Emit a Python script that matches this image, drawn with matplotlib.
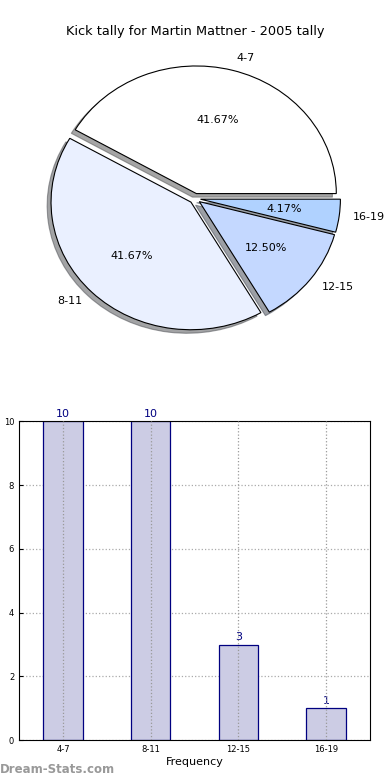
import matplotlib
matplotlib.use("Agg")
import matplotlib.pyplot as plt

# kick tally by distance bucket
categories = ["4-7", "8-11", "12-15", "16-19"]
counts = [10, 10, 3, 1]
pie_colors = ["#ffffff", "#eaf0ff", "#c4d8ff", "#b0d2ff"]

title = "Kick tally for Martin Mattner - 2005 tally"

fig = plt.figure(figsize=(3.9, 7.8), dpi=100)

# --- pie ---
ax1 = fig.add_axes([0.0513, 0.541, 0.897, 0.409])
wedges, texts, autotexts = ax1.pie(
    counts, labels=categories, colors=pie_colors, autopct="%.2f%%",
    explode=[0.04] * len(counts), shadow=True, startangle=0,
    wedgeprops=dict(edgecolor="black", linewidth=0.8),
    textprops=dict(fontsize=8),
)
ax1.set_aspect("auto")
ax1.set_title(title, fontsize=9.3, pad=3)

# --- bars ---
ax2 = fig.add_axes([0.049, 0.051, 0.9, 0.409])
x = list(range(len(categories)))
ax2.bar(x, counts, width=0.45, color="#ccccE4", edgecolor="#000080",
        linewidth=0.9, zorder=2)
for xi, c in zip(x, counts):
    ax2.text(xi, c + 0.08, str(c), ha="center", va="bottom",
             color="#000080", fontsize=8)
    # vertical grid shows through the bars in the original
    ax2.axvline(xi, linestyle=":", color="#999999", linewidth=0.9, zorder=3)
ax2.set_xlim(-0.5, 3.5)
ax2.set_ylim(0, 10)
ax2.set_xticks(x)
ax2.set_xticklabels(categories, fontsize=6)
ax2.set_yticks([0, 2, 4, 6, 8, 10])
ax2.tick_params(axis="y", labelsize=6, length=3, direction="in")
ax2.tick_params(axis="x", length=3, direction="in")
ax2.grid(True, axis="y", linestyle=":", color="#aaaaaa", linewidth=0.9)
ax2.set_axisbelow(True)
ax2.set_xlabel("Frequency", fontsize=8, labelpad=2)
ax2.set_ylabel("Number of Kicks", fontsize=7)
ax2.yaxis.set_label_coords(-0.045, 0.5)

fig.text(0.0, 0.005, "Dream-Stats.com", fontsize=8.5, color="#999999",
         fontweight="bold", ha="left", va="bottom")

fig.savefig("out.png", dpi=100)
